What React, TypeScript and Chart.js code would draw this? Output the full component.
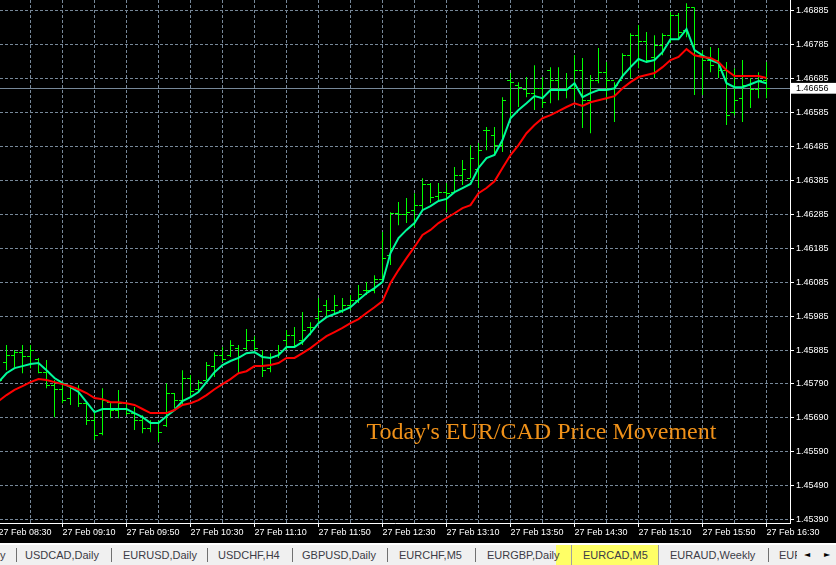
import React, { useEffect, useRef } from 'react';
import { Chart, registerables } from 'chart.js';

Chart.register(...registerables);

// ---------------- data (EURCAD, M5) ----------------
const chartTitle = "Today's EUR/CAD Price Movement";
const firstBarTime = '08:30';
const barStepMinutes = 5;

const highs = [
  1.45878, 1.45902, 1.45887, 1.45902, 1.45902, 1.45864, 1.45858, 1.45799,
  1.45790, 1.45784, 1.45784, 1.45734, 1.45702, 1.45775, 1.45734, 1.45770,
  1.45734, 1.45720, 1.45696, 1.45681, 1.45681, 1.45790, 1.45761, 1.45828,
  1.45814, 1.45799, 1.45852, 1.45881, 1.45896, 1.45916, 1.45902, 1.45949,
  1.45928, 1.45887, 1.45878, 1.45902, 1.45946, 1.45955, 1.45999, 1.45969,
  1.46040, 1.46034, 1.46049, 1.46040, 1.46049, 1.46078, 1.46087, 1.46107,
  1.46234, 1.46292, 1.46322, 1.46334, 1.46348, 1.46392, 1.46378, 1.46378,
  1.46378, 1.46425, 1.46445, 1.46489, 1.46495, 1.46542, 1.46542, 1.46630,
  1.46701, 1.46674, 1.46689, 1.46724, 1.46689, 1.46718, 1.46718, 1.46701,
  1.46753, 1.46745, 1.46695, 1.46774, 1.46733, 1.46674, 1.46759, 1.46818,
  1.46842, 1.46821, 1.46812, 1.46818, 1.46880, 1.46877, 1.46906, 1.46894,
  1.46768, 1.46777, 1.46774, 1.46733, 1.46715, 1.46739, 1.46686, 1.46703,
  1.46733,
];
const lows = [
  1.45793, 1.45828, 1.45837, 1.45819, 1.45834, 1.45819, 1.45775, 1.45690,
  1.45731, 1.45726, 1.45720, 1.45667, 1.45623, 1.45637, 1.45687, 1.45687,
  1.45696, 1.45652, 1.45643, 1.45646, 1.45617, 1.45661, 1.45717, 1.45726,
  1.45749, 1.45764, 1.45799, 1.45808, 1.45852, 1.45867, 1.45819, 1.45887,
  1.45887, 1.45808, 1.45822, 1.45864, 1.45887, 1.45893, 1.45902, 1.45931,
  1.45966, 1.45984, 1.45990, 1.45996, 1.46004, 1.46025, 1.46049, 1.46054,
  1.46084, 1.46137, 1.46254, 1.46260, 1.46248, 1.46298, 1.46319, 1.46322,
  1.46292, 1.46351, 1.46372, 1.46392, 1.46363, 1.46474, 1.46460, 1.46469,
  1.46568, 1.46601, 1.46630, 1.46592, 1.46598, 1.46612, 1.46621, 1.46627,
  1.46621, 1.46539, 1.46524, 1.46671, 1.46621, 1.46557, 1.46686, 1.46686,
  1.46715, 1.46730, 1.46686, 1.46753, 1.46789, 1.46803, 1.46806, 1.46636,
  1.46636, 1.46703, 1.46686, 1.46548, 1.46577, 1.46557, 1.46598, 1.46627,
  1.46627,
];
const opens = [
  1.45834, 1.45852, 1.45872, 1.45881, 1.45869, 1.45858, 1.45822, 1.45784,
  1.45770, 1.45746, 1.45775, 1.45731, 1.45681, 1.45643, 1.45734, 1.45711,
  1.45731, 1.45702, 1.45681, 1.45658, 1.45673, 1.45667, 1.45761, 1.45740,
  1.45805, 1.45770, 1.45799, 1.45840, 1.45872, 1.45872, 1.45893, 1.45893,
  1.45916, 1.45872, 1.45834, 1.45872, 1.45916, 1.45931, 1.45916, 1.45952,
  1.45981, 1.46019, 1.46004, 1.46004, 1.46019, 1.46034, 1.46063, 1.46063,
  1.46093, 1.46166, 1.46289, 1.46284, 1.46298, 1.46313, 1.46372, 1.46339,
  1.46351, 1.46351, 1.46401, 1.46392, 1.46416, 1.46533, 1.46518, 1.46489,
  1.46680, 1.46665, 1.46651, 1.46642, 1.46656, 1.46709, 1.46680, 1.46651,
  1.46656, 1.46709, 1.46621, 1.46680, 1.46703, 1.46680, 1.46680, 1.46753,
  1.46812, 1.46792, 1.46745, 1.46783, 1.46812, 1.46871, 1.46827, 1.46892,
  1.46753, 1.46739, 1.46739, 1.46709, 1.46586, 1.46627, 1.46665, 1.46651,
  1.46680,
];
const closes = [
  1.45799, 1.45872, 1.45881, 1.45869, 1.45887, 1.45822, 1.45784, 1.45770,
  1.45740, 1.45775, 1.45731, 1.45681, 1.45637, 1.45740, 1.45711, 1.45731,
  1.45702, 1.45681, 1.45658, 1.45673, 1.45646, 1.45761, 1.45740, 1.45805,
  1.45764, 1.45793, 1.45843, 1.45872, 1.45858, 1.45902, 1.45869, 1.45916,
  1.45893, 1.45828, 1.45864, 1.45881, 1.45931, 1.45902, 1.45946, 1.45952,
  1.45999, 1.46004, 1.46019, 1.46019, 1.46034, 1.46049, 1.46063, 1.46093,
  1.46157, 1.46289, 1.46284, 1.46292, 1.46313, 1.46372, 1.46334, 1.46351,
  1.46348, 1.46401, 1.46416, 1.46451, 1.46474, 1.46533, 1.46489, 1.46621,
  1.46674, 1.46659, 1.46642, 1.46656, 1.46615, 1.46680, 1.46651, 1.46656,
  1.46709, 1.46621, 1.46680, 1.46703, 1.46680, 1.46665, 1.46753, 1.46812,
  1.46792, 1.46739, 1.46783, 1.46812, 1.46871, 1.46821, 1.46892, 1.46753,
  1.46739, 1.46724, 1.46709, 1.46577, 1.46621, 1.46665, 1.46651, 1.46680,
  1.46656,
];
const fastMA = [
  1.45793, 1.45819, 1.45834, 1.45840, 1.45846, 1.45849, 1.45828, 1.45805,
  1.45790, 1.45778, 1.45764, 1.45734, 1.45705, 1.45714, 1.45714, 1.45714,
  1.45714, 1.45702, 1.45690, 1.45673, 1.45673, 1.45693, 1.45711, 1.45737,
  1.45749, 1.45764, 1.45793, 1.45822, 1.45843, 1.45855, 1.45864, 1.45878,
  1.45881, 1.45867, 1.45864, 1.45872, 1.45896, 1.45896, 1.45911, 1.45937,
  1.45966, 1.45984, 1.45993, 1.46002, 1.46013, 1.46034, 1.46054, 1.46069,
  1.46087, 1.46172, 1.46216, 1.46240, 1.46260, 1.46298, 1.46310, 1.46325,
  1.46331, 1.46351, 1.46363, 1.46375, 1.46422, 1.46451, 1.46460, 1.46504,
  1.46568, 1.46592, 1.46612, 1.46633, 1.46627, 1.46651, 1.46651, 1.46651,
  1.46671, 1.46630, 1.46642, 1.46651, 1.46651, 1.46656, 1.46692, 1.46718,
  1.46742, 1.46733, 1.46739, 1.46762, 1.46800, 1.46800, 1.46830, 1.46768,
  1.46753, 1.46739, 1.46730, 1.46671, 1.46659, 1.46659, 1.46668, 1.46677,
  1.46671,
];
const slowMA = [
  1.45737, 1.45755, 1.45770, 1.45781, 1.45793, 1.45802, 1.45799, 1.45793,
  1.45787, 1.45781, 1.45772, 1.45761, 1.45746, 1.45743, 1.45734, 1.45734,
  1.45731, 1.45726, 1.45714, 1.45702, 1.45702, 1.45702, 1.45711, 1.45726,
  1.45731, 1.45740, 1.45755, 1.45772, 1.45787, 1.45802, 1.45819, 1.45825,
  1.45840, 1.45840, 1.45843, 1.45849, 1.45864, 1.45864, 1.45878, 1.45893,
  1.45911, 1.45928, 1.45940, 1.45952, 1.45966, 1.45978, 1.45996, 1.46013,
  1.46031, 1.46084, 1.46122, 1.46157, 1.46190, 1.46225, 1.46240, 1.46260,
  1.46275, 1.46289, 1.46304, 1.46313, 1.46348, 1.46363, 1.46383, 1.46422,
  1.46460, 1.46489, 1.46524, 1.46548, 1.46568, 1.46577, 1.46589, 1.46601,
  1.46612, 1.46604, 1.46615, 1.46621, 1.46627, 1.46633, 1.46656, 1.46674,
  1.46689, 1.46695, 1.46701, 1.46718, 1.46739, 1.46748, 1.46771, 1.46753,
  1.46748, 1.46745, 1.46733, 1.46709, 1.46692, 1.46692, 1.46692, 1.46692,
  1.46686,
];

const timeTickLabels = [
  '27 Feb 08:30', '27 Feb 09:10', '27 Feb 09:50', '27 Feb 10:30', '27 Feb 11:10',
  '27 Feb 11:50', '27 Feb 12:30', '27 Feb 13:10', '27 Feb 13:50', '27 Feb 14:30',
  '27 Feb 15:10', '27 Feb 15:50', '27 Feb 16:30',
];
const priceTickLabels = [
  '1.46885', '1.46785', '1.46685', '1.46585', '1.46485', '1.46385', '1.46285', '1.46185',
  '1.46085', '1.45985', '1.45885', '1.45790', '1.45690', '1.45590', '1.45490', '1.45390',
];
const currentPrice = 1.46656;
const titleAnchorTime = '12:20';
const titleAnchorPrice = 1.45625;

const tabNames = [
  'y', 'USDCAD,Daily', 'EURUSD,Daily', 'USDCHF,H4', 'GBPUSD,Daily', 'EURCHF,M5',
  'EURGBP,Daily', 'EURCAD,M5', 'EURAUD,Weekly', 'EUR',
];

// ---------------- view / style ----------------
const viewStartMinutes = 510.9375;
const viewEndMinutes = 1004.6875;
const viewLowPrice = 1.453792;
const viewHighPrice = 1.469153;

const GRID = '#778899';
const BAR = '#00ff00';
const FAST = '#00fa9a';
const SLOW = '#ff0000';
const TITLE = '#ef9119';

const tabTextX = [0, 25, 123, 218, 302, 399, 487, 583, 670, 779];
const tabSepX = [16, 111, 207, 292, 387, 475, 768];

const toMinutes = (s: string) => {
  const hm = s.trim().split(' ').pop() as string;
  const [h, m] = hm.split(':').map(Number);
  return h * 60 + m;
};

export default function App() {
  const canvasRef = useRef<HTMLCanvasElement>(null);

  useEffect(() => {
    const canvas = canvasRef.current;
    if (!canvas) return;

    const t0 = toMinutes(firstBarTime);
    const barTimes = highs.map((_, i) => t0 + i * barStepMinutes);
    const labelTimes = timeTickLabels.map(toMinutes);
    const gridTimes: number[] = [];
    labelTimes.forEach((t, i) => {
      gridTimes.push(t);
      if (i < labelTimes.length - 1) gridTimes.push((t + labelTimes[i + 1]) / 2);
    });
    const labelAt = (v: number) => {
      const j = labelTimes.indexOf(v);
      return j >= 0 ? timeTickLabels[j] : '';
    };
    const priceTicks = priceTickLabels.map(Number);
    const isCurrent = (ctx: any) => !!(ctx && ctx.tick && Math.abs(ctx.tick.value - currentPrice) < 1e-9);

    const ohlcTicks = {
      id: 'ohlcTicks',
      afterDatasetDraw(chart: any, args: any) {
        const ds = chart.data.datasets[args.index];
        if (ds.type !== 'bar') return;
        const { ctx, chartArea, scales } = chart;
        const xs = scales.x;
        const ys = scales.y;
        ctx.save();
        ctx.beginPath();
        ctx.rect(chartArea.left, chartArea.top, chartArea.right - chartArea.left, chartArea.bottom - chartArea.top);
        ctx.clip();
        ctx.fillStyle = BAR;
        barTimes.forEach((t, i) => {
          const px = Math.floor(xs.getPixelForValue(t));
          const yo = Math.floor(ys.getPixelForValue(opens[i]));
          const yc = Math.floor(ys.getPixelForValue(closes[i]));
          ctx.fillRect(px - 3, yo, 3, 1);
          ctx.fillRect(px + 1, yc, 3, 1);
        });
        ctx.restore();
      },
    };

    const titleText = {
      id: 'titleText',
      afterDatasetsDraw(chart: any) {
        const { ctx, scales } = chart;
        ctx.save();
        ctx.font = '24px "Liberation Serif", "Times New Roman", serif';
        ctx.fillStyle = TITLE;
        ctx.textBaseline = 'alphabetic';
        ctx.textAlign = 'left';
        ctx.fillText(
          chartTitle,
          scales.x.getPixelForValue(toMinutes(titleAnchorTime)),
          scales.y.getPixelForValue(titleAnchorPrice)
        );
        ctx.restore();
      },
    };

    const chart = new Chart(canvas, {
      type: 'line',
      data: {
        datasets: [
          {
            type: 'line',
            label: 'MA slow',
            data: barTimes.map((t, i) => ({ x: t, y: slowMA[i] })),
            borderColor: SLOW,
            borderWidth: 2,
            pointRadius: 0,
            tension: 0,
          },
          {
            type: 'line',
            label: 'MA fast',
            data: barTimes.map((t, i) => ({ x: t, y: fastMA[i] })),
            borderColor: FAST,
            borderWidth: 2,
            pointRadius: 0,
            tension: 0,
          },
          {
            type: 'bar',
            label: 'EURCAD,M5',
            data: barTimes.map((t, i) => ({ x: t, y: [lows[i], highs[i]] })) as any,
            backgroundColor: BAR,
            borderWidth: 0,
            barThickness: 1,
            inflateAmount: 0,
          } as any,
        ],
      },
      options: {
        animation: false,
        responsive: false,
        devicePixelRatio: 1,
        events: [],
        layout: { padding: 0 },
        plugins: {
          legend: { display: false },
          tooltip: { enabled: false },
          title: { display: false },
        },
        scales: {
          x: {
            type: 'linear',
            position: 'bottom',
            min: viewStartMinutes,
            max: viewEndMinutes,
            offset: false,
            bounds: 'data',
            afterBuildTicks: (s: any) => {
              s.ticks = gridTimes.map((v) => ({ value: v }));
            },
            afterFit: (s: any) => {
              s.height = 20;
              s.paddingLeft = 0;
              s.paddingRight = 0;
            },
            ticks: {
              autoSkip: false,
              maxRotation: 0,
              minRotation: 0,
              align: 'start',
              padding: 0,
              color: '#ffffff',
              font: { family: '"Liberation Sans", Arial, sans-serif', size: 9 },
              callback: (v: any) => labelAt(Number(v)),
            },
            grid: {
              offset: false,
              color: GRID,
              lineWidth: 1,
              tickLength: 4,
              tickColor: (c: any) => (c.tick && labelAt(c.tick.value) ? '#ffffff' : 'rgba(0,0,0,0)'),
            },
            border: { display: true, color: '#ffffff', width: 1, dash: [3, 2] },
          } as any,
          y: {
            type: 'linear',
            position: 'right',
            min: viewLowPrice,
            max: viewHighPrice,
            bounds: 'data',
            afterBuildTicks: (s: any) => {
              s.ticks = [...priceTicks, currentPrice].map((v) => ({ value: v }));
            },
            afterFit: (s: any) => {
              s.width = 46;
              s.paddingTop = 0;
              s.paddingBottom = 0;
            },
            ticks: {
              autoSkip: false,
              padding: 2,
              color: (c: any) => (isCurrent(c) ? '#000000' : '#ffffff'),
              showLabelBackdrop: (c: any) => isCurrent(c),
              backdropColor: '#ffffff',
              backdropPadding: { top: 0, bottom: 0, left: 5, right: 8 },
              font: { family: '"Liberation Sans", Arial, sans-serif', size: 9 },
              callback: (v: any) => Number(v).toFixed(5),
            },
            grid: {
              color: GRID,
              lineWidth: 1,
              tickLength: 4,
              tickColor: '#ffffff',
            },
            border: {
              display: true,
              color: '#ffffff',
              width: 1,
              dash: (c: any) => (isCurrent(c) ? [] : [3, 2]),
            },
          } as any,
        },
      } as any,
      plugins: [ohlcTicks, titleText],
    });

    return () => chart.destroy();
  }, []);

  return (
    <div
      style={{
        position: 'absolute',
        left: 0,
        top: 0,
        width: 836,
        height: 565,
        overflow: 'hidden',
        background: '#000',
      }}
    >
      <canvas
        ref={canvasRef}
        width={836}
        height={543}
        style={{ position: 'absolute', left: 0, top: 0, width: 836, height: 543, background: '#000' }}
      />
      <div style={{ position: 'absolute', left: 0, top: 543, width: 836, height: 2, background: '#ffffff' }} />
      <div
        style={{
          position: 'absolute',
          left: 0,
          top: 545,
          width: 836,
          height: 20,
          background: '#f0f0f0',
          font: '11px "Liberation Sans", Arial, sans-serif',
          color: '#3c3c46',
        }}
      >
        <div style={{ position: 'absolute', left: 556, top: 0, width: 102, height: 20, background: '#ffff66' }} />
        <div style={{ position: 'absolute', left: 571, top: 0, width: 1, height: 20, background: '#a0a0a0' }} />
        <div style={{ position: 'absolute', left: 658, top: 0, width: 1, height: 20, background: '#a0a0a0' }} />
        {tabSepX.map((x, i) => (
          <div key={'s' + i} style={{ position: 'absolute', left: x, top: 3, width: 1, height: 14, background: '#707070' }} />
        ))}
        {tabNames.map((n, i) => (
          <span
            key={'t' + i}
            style={{ position: 'absolute', left: tabTextX[i], top: 0, lineHeight: '20px', whiteSpace: 'nowrap' }}
          >
            {n}
          </span>
        ))}
        <div style={{ position: 'absolute', left: 797, top: 0, width: 39, height: 20, background: '#f0f0f0' }} />
        <span style={{ position: 'absolute', left: 804, top: 0, lineHeight: '20px', fontSize: 8, color: '#000', fontFamily: '"DejaVu Sans"' }}>◄</span>
        <span style={{ position: 'absolute', left: 824, top: 0, lineHeight: '20px', fontSize: 8, color: '#000', fontFamily: '"DejaVu Sans"' }}>►</span>
      </div>
    </div>
  );
}
